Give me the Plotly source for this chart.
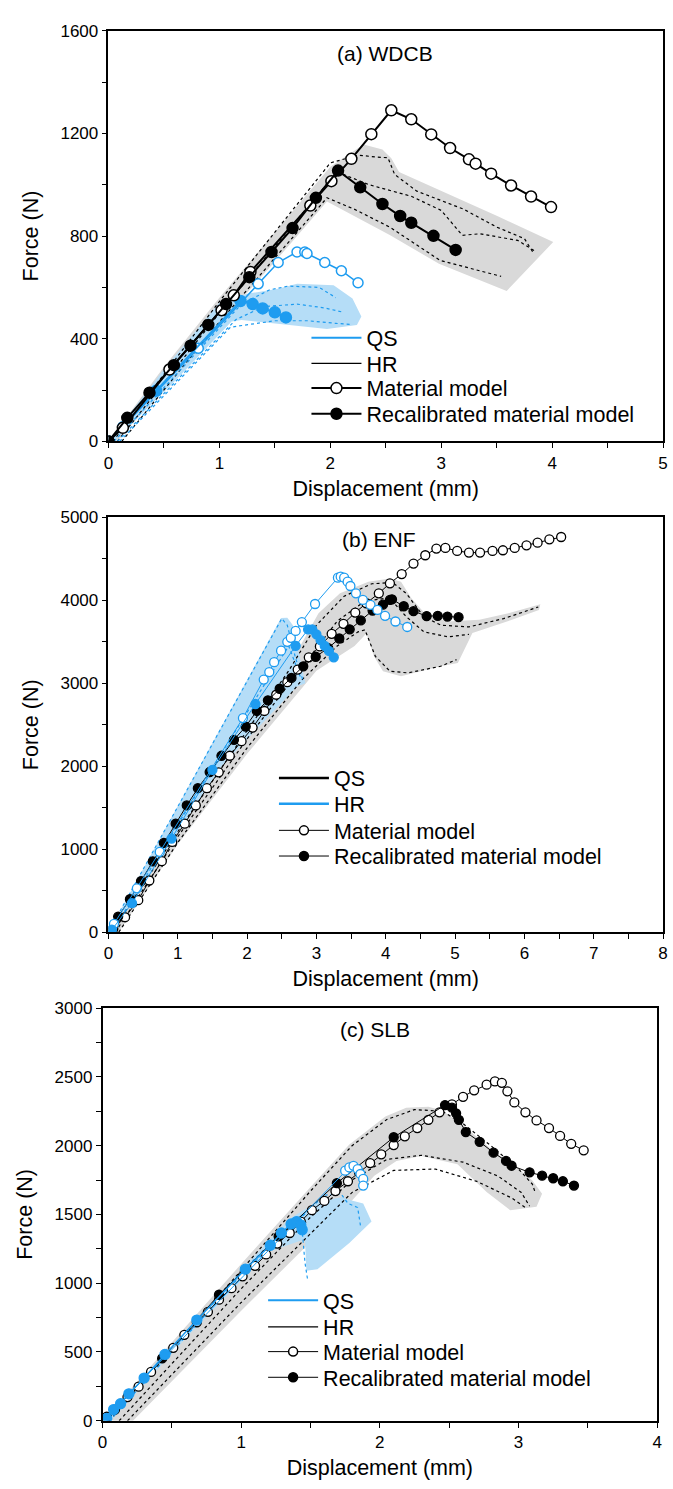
import plotly.graph_objects as go

BLUE = "#1e9cf0"
BAND_BLUE = "#b5ddf7"
BAND_GRAY = "#d9d9d9"
FONT = "Liberation Sans, Arial, sans-serif"

# ---------------- Panel (a) WDCB ----------------
a_mat_x = [0, 0.13, 0.55, 1.02, 1.13, 1.28, 1.82, 2.01, 2.19, 2.37, 2.55, 2.73, 2.91, 3.08, 3.25, 3.31, 3.45, 3.63, 3.81, 3.99]
a_mat_y = [0, 53, 280, 511, 569, 660, 919, 1014, 1101, 1197, 1290, 1255, 1196, 1143, 1099, 1082, 1043, 997, 954, 913]
a_rec_x = [0, 0.17, 0.37, 0.59, 0.74, 0.90, 1.06, 1.27, 1.47, 1.66, 1.87, 2.07, 2.27, 2.47, 2.63, 2.73, 2.93, 3.13]
a_rec_y = [0, 92, 190, 297, 373, 454, 535, 640, 738, 831, 949, 1055, 990, 925, 878, 852, 801, 746]
a_qmat_x = [0, 0.13, 0.81, 1.35, 1.53, 1.70, 1.77, 1.79, 1.95, 2.10, 2.25]
a_qmat_y = [0, 57, 363, 614, 697, 738, 738, 732, 697, 665, 618]
a_qrec_x = [0, 0.43, 1.19, 1.30, 1.39, 1.50, 1.60]
a_qrec_y = [0, 197, 547, 535, 518, 503, 483]
a_band_x = [0, 0.5, 1.0, 1.5, 2.0, 2.30, 2.47, 2.55, 2.62, 3.51, 4.01, 3.59, 2.98, 2.54, 1.97, 1.5, 1.0, 0.5, 0.08]
a_band_y = [0, 290, 560, 815, 1070, 1157, 1137, 1103, 1050, 877, 777, 586, 692, 803, 935, 700, 460, 215, 0]
a_d1_x = [0.04, 1.0, 2.0, 2.25, 2.42, 2.52, 2.58, 2.78, 3.2, 3.5, 3.75, 3.83]
a_d1_y = [0, 545, 1085, 1115, 1108, 1105, 1040, 975, 905, 835, 790, 735]
a_d2_x = [0.08, 1.0, 2.06, 2.35, 2.73, 3.0, 3.19, 3.35, 3.69, 3.85]
a_d2_y = [0, 500, 1050, 1000, 955, 900, 803, 809, 783, 740]
a_d3_x = [0.12, 1.0, 1.97, 2.22, 2.54, 2.99, 3.54]
a_d3_y = [0, 465, 949, 904, 834, 705, 643]
a_qband_x = [0, 0.5, 1.0, 1.25, 1.53, 1.70, 2.03, 2.20, 2.28, 2.24, 1.97, 1.20, 1.11, 0.6, 0.05]
a_qband_y = [0, 280, 540, 575, 595, 614, 608, 557, 487, 454, 438, 473, 467, 235, 0]
a_qd1_x = [0.05, 1.2, 1.45, 1.62, 1.9, 2.05]
a_qd1_y = [0, 535, 590, 605, 600, 560]
a_qd2_x = [0.08, 1.15, 1.4, 1.7, 1.95, 2.1]
a_qd2_y = [0, 475, 525, 535, 520, 505]
a_qd3_x = [0.1, 1.1, 1.5, 1.8, 2.05, 2.2]
a_qd3_y = [0, 445, 470, 470, 460, 455]

# ---------------- Panel (b) ENF ----------------
b_mat_x = [0.07, 0.24, 0.43, 0.59, 0.77, 0.92, 1.10, 1.26, 1.42, 1.59, 1.75, 1.92, 2.08, 2.25, 2.42, 2.58, 2.73, 2.89,
           3.05, 3.22, 3.39, 3.56, 3.72, 3.90, 4.06, 4.23, 4.40, 4.57, 4.73, 4.86, 5.03, 5.20, 5.36, 5.54, 5.69, 5.86,
           6.03, 6.19, 6.36, 6.53]
b_mat_y = [40, 179, 385, 622, 855, 1087, 1307, 1527, 1735, 1926, 2126, 2302, 2466, 2666, 2862, 3014, 3165, 3313,
           3445, 3597, 3717, 3853, 3965, 4085, 4205, 4317, 4444, 4544, 4624, 4632, 4596, 4576, 4576, 4596, 4604, 4632,
           4664, 4696, 4736, 4764]
b_rec_x = [0.14, 0.31, 0.47, 0.64, 0.80, 0.97, 1.13, 1.29, 1.46, 1.63, 1.81, 1.98, 2.14, 2.30, 2.47, 2.64, 2.81, 2.99,
           3.17, 3.33, 3.48, 3.64, 3.81, 3.96, 4.06, 4.09, 4.26, 4.40, 4.59, 4.75, 4.89, 5.05]
b_rec_y = [187, 396, 615, 853, 1075, 1307, 1527, 1735, 1930, 2126, 2318, 2478, 2666, 2794, 2934, 3065, 3205, 3320,
           3425, 3540, 3651, 3758, 3877, 3948, 4005, 4013, 3929, 3869, 3810, 3813, 3805, 3797]
b_qmat_x = [0.08, 0.41, 0.74, 1.94, 2.24, 2.32, 2.39, 2.49, 2.58, 2.63, 2.70, 2.79, 2.98, 3.31, 3.35, 3.40, 3.45,
            3.49, 3.57, 3.67, 3.78, 3.88, 3.99, 4.14, 4.31]
b_qmat_y = [100, 528, 967, 2580, 3045, 3135, 3254, 3393, 3500, 3548, 3631, 3738, 3956, 4273, 4285, 4273, 4225,
            4173, 4085, 4005, 3945, 3885, 3813, 3745, 3679]
b_qrec_x = [0.05, 0.34, 0.91, 1.50, 2.12, 2.70, 2.88, 2.94, 3.00, 3.06, 3.12, 3.18, 3.25]
b_qrec_y = [28, 348, 1127, 1956, 2750, 3452, 3650, 3650, 3590, 3520, 3450, 3390, 3313]
b_band_x = [0, 1.0, 2.0, 2.7, 3.03, 3.34, 3.75, 4.06, 4.22, 4.37, 4.58, 4.89, 5.35, 5.77, 6.23,
            6.21, 5.8, 5.25, 5.04, 4.79, 4.22, 3.96, 3.83, 3.72, 3.55, 3.0, 2.0, 1.0, 0.15]
b_band_y = [0, 1230, 2450, 3350, 3845, 4085, 4225, 4265, 4225, 4025, 3825, 3745, 3765, 3845, 3953,
            3885, 3760, 3605, 3245, 3205, 3085, 3146, 3325, 3600, 3450, 3150, 2150, 1060, 0]
b_d1_x = [0.05, 1.0, 2.0, 2.6, 3.0, 3.4, 3.8, 4.1, 4.3, 4.55, 4.8, 5.2, 5.7, 6.2]
b_d1_y = [0, 1210, 2430, 3150, 3700, 4050, 4200, 4215, 4080, 3800, 3700, 3680, 3780, 3920]
b_d2_x = [0.1, 1.0, 2.0, 2.8, 3.3, 3.7, 4.05, 4.3, 4.55, 4.9, 5.2]
b_d2_y = [0, 1150, 2330, 3200, 3750, 3990, 4030, 3800, 3620, 3560, 3590]
b_d3_x = [0.15, 1.0, 2.0, 2.8, 3.3, 3.6, 3.70, 3.85, 4.06, 4.32, 4.79, 5.02]
b_d3_y = [0, 1080, 2220, 3050, 3450, 3620, 3645, 3325, 3146, 3125, 3205, 3285]
b_qband_x = [0, 2.49, 2.58, 2.66, 2.84, 2.72, 1.63, 0.05]
b_qband_y = [0, 3786, 3790, 3700, 3000, 2960, 2000, 0]
b_qd1_x = [0, 2.5, 2.58, 2.7, 2.8]
b_qd1_y = [0, 3780, 3700, 3300, 3050]
b_qd2_x = [0.05, 1.7, 2.6, 2.78]
b_qd2_y = [0, 2250, 3450, 3050]

# ---------------- Panel (c) SLB ----------------
c_mat_x = [0.03, 0.18, 0.26, 0.35, 0.51, 0.59, 0.68, 0.76, 0.84, 0.93, 1.01, 1.10, 1.18, 1.26, 1.35, 1.43, 1.51, 1.60,
           1.68, 1.77, 1.85, 1.93, 2.01, 2.10, 2.18, 2.27, 2.35, 2.43, 2.52, 2.60, 2.68, 2.77, 2.83, 2.88, 2.92, 2.97,
           3.05, 3.13, 3.22, 3.30, 3.38, 3.47]
c_mat_y = [29, 172, 248, 355, 530, 625, 716, 792, 880, 964, 1050, 1126, 1209, 1288, 1365, 1448, 1531, 1598,
           1670, 1741, 1805, 1873, 1937, 2004, 2068, 2128, 2188, 2242, 2300, 2355, 2402, 2443, 2467, 2457, 2395, 2314,
           2242, 2183, 2128, 2071, 2013, 1966]
c_rec_x = [0.09, 0.43, 0.84, 1.27, 1.69, 2.10, 2.47, 2.52, 2.55, 2.57, 2.62, 2.72, 2.82, 2.91, 2.95, 3.08, 3.17,
           3.25, 3.32, 3.40]
c_rec_y = [81, 453, 916, 1341, 1727, 2061, 2295, 2276, 2235, 2188, 2099, 2028, 1949, 1889, 1854, 1806, 1782,
           1763, 1741, 1710]
c_qmat_x = [0, 1.75, 1.78, 1.81, 1.84, 1.86, 1.88, 1.88]
c_qmat_y = [0, 1818, 1842, 1853, 1830, 1794, 1758, 1710]
c_qrec_x = [0.03, 0.08, 0.13, 0.19, 0.30, 0.45, 0.68, 1.03, 1.21, 1.29, 1.36, 1.40, 1.43, 1.44]
c_qrec_y = [17, 81, 124, 196, 310, 482, 732, 1102, 1276, 1365, 1431, 1448, 1424, 1388]
c_band_x = [0, 0.5, 1.0, 1.52, 1.78, 2.04, 2.19, 2.35, 2.45, 2.6, 2.82, 3.0, 3.10, 3.17, 3.13, 2.94, 2.77, 2.56,
            2.30, 2.12, 1.96, 1.78, 1.0, 0.22]
c_band_y = [0, 570, 1140, 1722, 2009, 2211, 2276, 2283, 2255, 2150, 1960, 1830, 1746, 1651, 1555, 1531, 1663, 1865,
            1925, 1889, 1782, 1579, 800, 0]
c_d1_x = [0.05, 1.0, 1.5, 1.8, 2.05, 2.25, 2.45, 2.6, 2.8, 3.0, 3.1, 3.12]
c_d1_y = [0, 1090, 1670, 2000, 2190, 2262, 2250, 2160, 2000, 1830, 1720, 1660]
c_d2_x = [0.12, 1.0, 1.5, 1.8, 2.05, 2.3, 2.6, 2.85, 3.02, 3.08]
c_d2_y = [0, 960, 1480, 1750, 1900, 1930, 1880, 1780, 1660, 1560]
c_d3_x = [0.18, 1.0, 1.5, 1.8, 2.1, 2.4, 2.7, 2.95, 3.05]
c_d3_y = [0, 860, 1360, 1660, 1820, 1830, 1740, 1620, 1550]
c_qband_x = [0, 0.5, 1.0, 1.35, 1.55, 1.73, 1.79, 1.88, 1.94, 1.78, 1.55, 1.47, 1.46, 1.2, 0.6, 0.06]
c_qband_y = [0, 540, 1090, 1470, 1590, 1627, 1603, 1579, 1448, 1293, 1102, 1090, 1320, 1230, 600, 0]
c_qd1_x = [0.03, 1.0, 1.4, 1.44, 1.46, 1.48]
c_qd1_y = [0, 1080, 1470, 1380, 1150, 1019]
c_qd2_x = [0.05, 1.0, 1.6, 1.72, 1.77, 1.84, 1.86]
c_qd2_y = [0, 1060, 1640, 1650, 1580, 1550, 1420]

legend_names = ["QS", "HR", "Material model", "Recalibrated material model"]

fig = go.Figure()


def band(x, y, color, ax):
    fig.add_trace(go.Scatter(x=x, y=y, mode="lines", fill="toself", fillcolor=color,
                             line=dict(width=0, color=color), showlegend=False,
                             hoverinfo="skip", xaxis="x" + ax, yaxis="y" + ax))


def dotted(x, y, color, ax, w=1.2):
    fig.add_trace(go.Scatter(x=x, y=y, mode="lines", line=dict(color=color, width=w, dash="dot"),
                             showlegend=False, xaxis="x" + ax, yaxis="y" + ax))


def series(x, y, color, ax, filled, size, lw, mlw=1.5):
    fig.add_trace(go.Scatter(
        x=x, y=y, mode="lines+markers", line=dict(color=color, width=lw),
        marker=dict(symbol="circle", size=size, color=color if filled else "white",
                    line=dict(color=color, width=mlw)),
        showlegend=False, xaxis="x" + ax, yaxis="y" + ax))


def leg(name, color, lw, legend, marker=None, msize=10):
    kw = dict(mode="lines")
    if marker is not None:
        kw = dict(mode="lines+markers",
                  marker=dict(symbol="circle", size=msize, color="black" if marker == "filled" else "white",
                              line=dict(color="black", width=1.5)))
    fig.add_trace(go.Scatter(x=[None], y=[None], name=name, line=dict(color=color, width=lw),
                             legend=legend, showlegend=True, **kw))


# Panel a
band(a_band_x, a_band_y, BAND_GRAY, "")
band(a_qband_x, a_qband_y, BAND_BLUE, "")
for dx, dy in [(a_d1_x, a_d1_y), (a_d2_x, a_d2_y), (a_d3_x, a_d3_y)]:
    dotted(dx, dy, "black", "")
for dx, dy in [(a_qd1_x, a_qd1_y), (a_qd2_x, a_qd2_y), (a_qd3_x, a_qd3_y)]:
    dotted(dx, dy, BLUE, "")
series(a_qmat_x, a_qmat_y, BLUE, "", False, 10, 1.5)
series(a_qrec_x, a_qrec_y, BLUE, "", True, 11, 2)
series(a_mat_x, a_mat_y, "black", "", False, 11, 2)
series(a_rec_x, a_rec_y, "black", "", True, 11, 2)

# Panel b
band(b_band_x, b_band_y, BAND_GRAY, "2")
band(b_qband_x, b_qband_y, BAND_BLUE, "2")
for dx, dy in [(b_d1_x, b_d1_y), (b_d2_x, b_d2_y), (b_d3_x, b_d3_y)]:
    dotted(dx, dy, "black", "2")
for dx, dy in [(b_qd1_x, b_qd1_y), (b_qd2_x, b_qd2_y)]:
    dotted(dx, dy, BLUE, "2")
series(b_mat_x, b_mat_y, "black", "2", False, 9, 1, 1.3)
series(b_rec_x, b_rec_y, "black", "2", True, 9, 1, 1.3)
series(b_qmat_x, b_qmat_y, BLUE, "2", False, 9, 1, 1.3)
series(b_qrec_x, b_qrec_y, BLUE, "2", True, 9, 1, 1.3)

# Panel c
band(c_band_x, c_band_y, BAND_GRAY, "3")
band(c_qband_x, c_qband_y, BAND_BLUE, "3")
for dx, dy in [(c_d1_x, c_d1_y), (c_d2_x, c_d2_y), (c_d3_x, c_d3_y)]:
    dotted(dx, dy, "black", "3")
for dx, dy in [(c_qd1_x, c_qd1_y), (c_qd2_x, c_qd2_y)]:
    dotted(dx, dy, BLUE, "3")
series(c_mat_x, c_mat_y, "black", "3", False, 9, 1, 1.3)
series(c_rec_x, c_rec_y, "black", "3", True, 9, 1, 1.3)
series(c_qmat_x, c_qmat_y, BLUE, "3", False, 9, 1, 1.3)
series(c_qrec_x, c_qrec_y, BLUE, "3", True, 10, 1.5, 1.3)

# Legends: one legend box per row for exact row spacing
leg(legend_names[0], BLUE, 2, "legend")
leg(legend_names[1], "black", 1.2, "legend2")
leg(legend_names[2], "black", 2, "legend3", "open", 11)
leg(legend_names[3], "black", 2, "legend4", "filled", 11)
leg(legend_names[0], "black", 2.5, "legend5")
leg(legend_names[1], BLUE, 2.5, "legend6")
leg(legend_names[2], "black", 1, "legend7", "open", 9)
leg(legend_names[3], "black", 1, "legend8", "filled", 9)
leg(legend_names[0], BLUE, 2, "legend9")
leg(legend_names[1], "black", 1.2, "legend10")
leg(legend_names[2], "black", 1, "legend11", "open", 9)
leg(legend_names[3], "black", 1, "legend12", "filled", 9)

W, H = 673, 1489


def px(v):
    return v / W


def py(v):
    return 1 - v / H


TXT = 21.5
axis_common = dict(showline=True, linecolor="black", linewidth=1.5, mirror=True, ticks="outside",
                   ticklen=5, tickwidth=1.2, tickcolor="black", showgrid=False, zeroline=False,
                   tickfont=dict(size=17, color="black", family=FONT))


def xax(domain, rng, anchor):
    return dict(domain=domain, range=rng, anchor=anchor, dtick=1, tick0=0,
                minor=dict(dtick=0.5, ticks="outside", ticklen=5, tickwidth=1.2, tickcolor="black"),
                title=dict(text="Displacement (mm)", font=dict(size=TXT, family=FONT, color="black"), standoff=9),
                **axis_common)


def yax(domain, rng, anchor, dt, mdt):
    return dict(domain=domain, range=rng, anchor=anchor, dtick=dt, tick0=0,
                minor=dict(dtick=mdt, ticks="outside", ticklen=5, tickwidth=1.2, tickcolor="black"),
                title=dict(text="Force (N)", font=dict(size=TXT, family=FONT, color="black"), standoff=16),
                **axis_common)


def legbox(x, yc):
    return dict(x=px(x), y=py(yc), xanchor="left", yanchor="middle", bgcolor="rgba(0,0,0,0)",
                font=dict(size=TXT, family=FONT, color="black"), itemwidth=50, tracegroupgap=0)


legend_layout = {}
rows = [(306, [333, 359, 384, 410]), (273, [779, 805, 832, 858]), (262, [1308, 1335, 1360, 1386])]
k = 1
for lx, ycs in rows:
    for yc in ycs:
        legend_layout["legend" if k == 1 else "legend%d" % k] = legbox(lx, yc)
        k += 1

fig.update_layout(
    width=W, height=H, autosize=False, margin=dict(l=0, r=0, t=0, b=0),
    paper_bgcolor="white", plot_bgcolor="white", font=dict(family=FONT, color="black"),
    xaxis=xax([px(105), px(668)], [0, 5], "y"),
    yaxis=yax([py(438), py(22)], [0, 1600], "x", 400, 200),
    xaxis2=xax([px(105), px(668)], [0, 8], "y2"),
    yaxis2=yax([py(935), py(515)], [0, 5000], "x2", 1000, 500),
    xaxis3=xax([px(99), px(662)], [0, 4], "y3"),
    yaxis3=yax([py(1430), py(1012)], [0, 3000], "x3", 500, 250),
    annotations=[
        dict(text="(a) WDCB", x=px(386), y=py(45), xref="paper", yref="paper", showarrow=False,
             xanchor="center", yanchor="middle", font=dict(size=21, family=FONT, color="black")),
        dict(text="(b) ENF", x=px(380), y=py(537), xref="paper", yref="paper", showarrow=False,
             xanchor="center", yanchor="middle", font=dict(size=21, family=FONT, color="black")),
        dict(text="(c) SLB", x=px(376), y=py(1034), xref="paper", yref="paper", showarrow=False,
             xanchor="center", yanchor="middle", font=dict(size=21, family=FONT, color="black")),
    ],
    **legend_layout,
)

fig.write_html("out.html")
